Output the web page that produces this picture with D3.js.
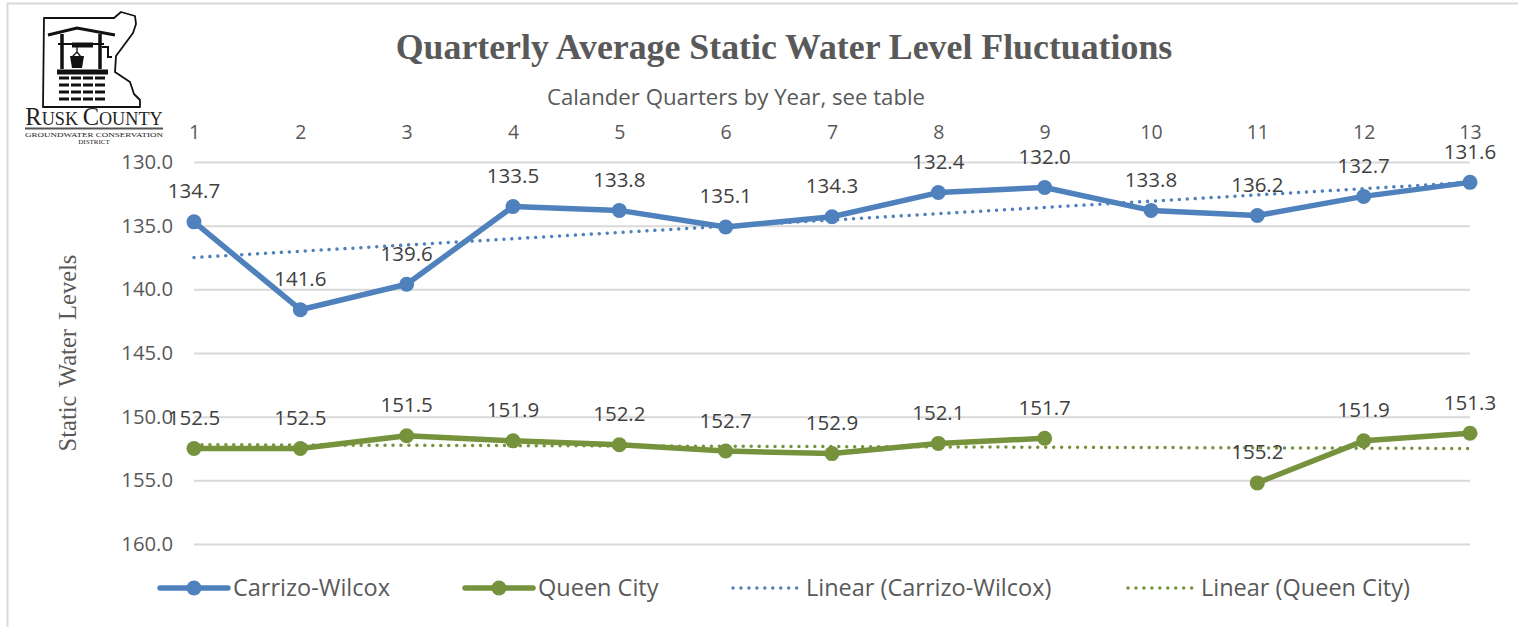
<!DOCTYPE html>
<html>
<head>
<meta charset="utf-8">
<script src="https://cdn.jsdelivr.net/npm/d3@7"></script>
<style>
html,body{margin:0;padding:0;background:#fff;overflow:hidden}
svg{display:block}
.sans{font-family:"Open Sans",sans-serif}
.serif{font-family:"Liberation Serif",serif}
.axis path.domain{display:none}
.axis text{font-family:"Open Sans",sans-serif;fill:#595959}
</style>
</head>
<body>
<svg id="chart" width="1518" height="627"></svg>
<script>
const quarters = [1,2,3,4,5,6,7,8,9,10,11,12,13];
const yTicks = [130,135,140,145,150,155,160];
const carrizoValues = [134.7,141.6,139.6,133.5,133.8,135.1,134.3,132.4,132.0,133.8,134.2,132.7,131.6];
const carrizoLabels = ["134.7","141.6","139.6","133.5","133.8","135.1","134.3","132.4","132.0","133.8","136.2","132.7","131.6"];
const queenValues = [152.5,152.5,151.5,151.9,152.2,152.7,152.9,152.1,151.7,null,155.2,151.9,151.3];
const queenLabels = ["152.5","152.5","151.5","151.9","152.2","152.7","152.9","152.1","151.7","","155.2","151.9","151.3"];
const carrizoTrend = [[1,137.5],[13,131.6]];
const queenTrend = [[1,152.2],[13,152.5]];
const BLUE = "#4f81bd", GREEN = "#76923c";

const svg = d3.select("#chart");
const x = d3.scaleLinear().domain([1,13]).range([194,1470]);
const y = d3.scaleLinear().domain([130,160]).range([162,544]);

// frame
svg.append("path").attr("d","M7.5 627V3.5H1518").attr("fill","none").attr("stroke","#d9d9d9").attr("stroke-width",2);

// logo
const logo = svg.append("g").attr("fill","none").attr("stroke","#111");
logo.append("path").attr("stroke-width",1.8).attr("stroke-linejoin","round")
  .attr("d","M44 18H114L121 12L135 16L136 24L133 33L116 56L115 72L130 82L134 94L140 100L140 107H43Z");
logo.append("path").attr("stroke-width",3).attr("d","M48 35L77 28L115 35");
logo.append("path").attr("stroke-width",3.5).attr("d","M62 34V69M100 34V69");
logo.append("path").attr("stroke-width",2).attr("d","M58 44H104M102 47H108V57H112");
logo.append("path").attr("stroke-width",5).attr("d","M72 45H93");
logo.append("path").attr("stroke-width",1.3).attr("d","M77 47V52L72 57M77 52L81 57");
logo.append("path").attr("fill","#111").attr("stroke","none").attr("d","M70 56H84L82 68H72Z");
logo.append("path").attr("stroke-width",5).attr("d","M57 72H108");
logo.append("path").attr("stroke-width",3).attr("stroke-dasharray","10 2").attr("d","M59 78H106M59 85H106M59 92H106M59 99H106");
const logoText = svg.append("g").attr("class","serif").attr("fill","#222");
const logoName = logoText.append("text").attr("x",94).attr("y",125).attr("text-anchor","middle").attr("font-size",24.5);
logoName.append("tspan").text("R");
logoName.append("tspan").attr("font-size",18.2).text("USK ");
logoName.append("tspan").text("C");
logoName.append("tspan").attr("font-size",18.2).text("OUNTY");
logoText.append("path").attr("d","M25 128.5H163").attr("stroke","#555").attr("stroke-width",2);
logoText.append("text").attr("x",94).attr("y",137).attr("text-anchor","middle").attr("font-size",7).attr("textLength",138).attr("lengthAdjust","spacingAndGlyphs").text("GROUNDWATER CONSERVATION");
logoText.append("text").attr("x",94).attr("y",144).attr("text-anchor","middle").attr("font-size",7).text("DISTRICT");

// titles
svg.append("text").attr("class","serif").attr("x",784).attr("y",59).attr("text-anchor","middle")
  .attr("font-size",35.8).attr("font-weight","bold").attr("fill","#595959").text("Quarterly Average Static Water Level Fluctuations");
svg.append("text").attr("class","sans").attr("x",736).attr("y",104.5).attr("text-anchor","middle")
  .attr("font-size",22.2).attr("fill","#595959").text("Calander Quarters by Year, see table");
svg.append("text").attr("class","serif").attr("transform","translate(76,353) rotate(-90)").attr("text-anchor","middle")
  .attr("font-size",24.5).attr("word-spacing",3).attr("fill","#595959").text("Static Water Levels");

// axes
svg.append("g").attr("class","axis y").attr("transform","translate(194,0)")
  .call(d3.axisLeft(y).tickValues(yTicks).tickFormat(d=>d.toFixed(1)).tickSize(-1276).tickPadding(21))
  .call(g=>g.selectAll("line").attr("stroke","#d9d9d9").attr("stroke-width",2))
  .call(g=>g.selectAll("text").attr("font-size",20.3));
svg.append("g").attr("class","axis x").attr("transform","translate(0,144.5)")
  .call(d3.axisTop(x).tickValues(quarters).tickFormat(d3.format("d")).tickSize(0).tickPadding(6))
  .call(g=>g.selectAll("text").attr("font-size",19.5));

// trends
const trendLine = d3.line().x(d=>x(d[0])).y(d=>y(d[1]));
[[carrizoTrend,BLUE],[queenTrend,GREEN]].forEach(([t,c])=>{
  svg.append("path").datum(t).attr("d",trendLine).attr("fill","none").attr("stroke",c)
    .attr("stroke-width",3.5).attr("stroke-linecap","round").attr("stroke-dasharray","0.01 7.95");
});

// series
const line = d3.line().defined(d=>d.v!=null).x(d=>x(d.q)).y(d=>y(d.v));
[[carrizoValues,carrizoLabels,BLUE],[queenValues,queenLabels,GREEN]].forEach(([vals,labs,c])=>{
  const rows = quarters.map((q,i)=>({q,v:vals[i],l:labs[i]}));
  const g = svg.append("g");
  g.append("path").datum(rows).attr("d",line).attr("fill","none").attr("stroke",c)
    .attr("stroke-width",5.5).attr("stroke-linejoin","round");
  const valid = rows.filter(d=>d.v!=null);
  g.selectAll("circle").data(valid).join("circle").attr("cx",d=>x(d.q)).attr("cy",d=>y(d.v)).attr("r",7.5).attr("fill",c);
  g.selectAll("text").data(valid).join("text").attr("class","sans")
    .attr("x",d=>x(d.q)).attr("y",d=>y(d.v)-23.5).attr("text-anchor","middle")
    .attr("font-size",20.5).attr("fill","#404040").text(d=>d.l);
});

// legend
const legendNames = ["Carrizo-Wilcox","Queen City","Linear (Carrizo-Wilcox)","Linear (Queen City)"];
const legendColors = [BLUE,GREEN,BLUE,GREEN];
const legendSolid = [true,true,false,false];
const legendStart = [160,465,733,1128];
const leg = svg.append("g").selectAll("g").data(legendNames).join("g")
  .attr("transform",(d,i)=>`translate(${legendStart[i]},588)`);
leg.append("path").attr("d","M0 0H68").attr("fill","none")
  .attr("stroke",(d,i)=>legendColors[i]).attr("stroke-linecap","round")
  .attr("stroke-width",(d,i)=>legendSolid[i]?5.5:3.5)
  .attr("stroke-dasharray",(d,i)=>legendSolid[i]?null:"0.01 7.95");
leg.filter((d,i)=>legendSolid[i]).append("circle").attr("cx",34).attr("r",7.5).attr("fill",(d,i)=>legendColors[i]);
leg.append("text").attr("class","sans").attr("x",73).attr("y",8)
  .attr("font-size",23.5).attr("fill","#595959").text(d=>d);
</script>
</body>
</html>
